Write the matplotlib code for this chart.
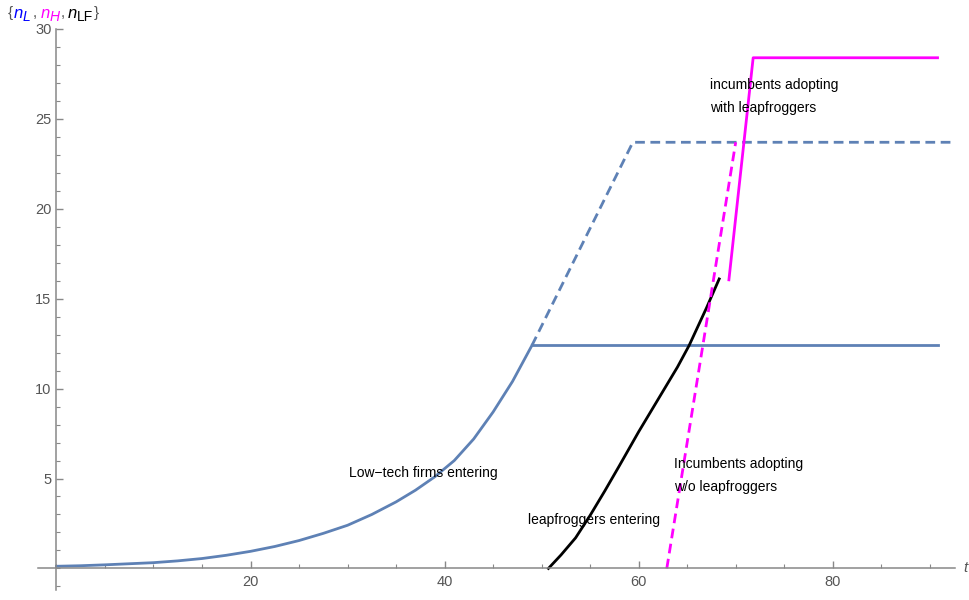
import matplotlib.pyplot as plt
from matplotlib.ticker import MultipleLocator

plt.rcParams['font.family'] = ['Liberation Sans', 'DejaVu Sans']

# low-tech firms entering (before and after the cap)
t_low = [0, 2.5, 5, 7.5, 10, 12.5, 15, 17.5, 20, 22.5, 25, 27.5, 30, 32.5, 35,
         37, 39, 41, 43, 45, 47, 49]
n_low = [0.12, 0.15, 0.2, 0.26, 0.32, 0.42, 0.55, 0.73, 0.95, 1.22, 1.55, 1.95,
         2.4, 3.0, 3.7, 4.35, 5.1, 6.0, 7.2, 8.7, 10.4, 12.4]
t_low_cap = [49, 90.8]
n_low_cap = [12.4, 12.4]
t_low_free = [49, 59.4, 92.6]
n_low_free = [12.4, 23.7, 23.7]

# leapfroggers entering
t_lf = [50.7, 52, 53.5, 55, 56.5, 58, 60, 62, 64, 65.2, 67, 68.3]
n_lf = [0, 0.75, 1.7, 2.95, 4.3, 5.7, 7.6, 9.4, 11.2, 12.4, 14.5, 16.1]

# incumbents adopting with / without leapfroggers
t_inc_wo = [62.9, 70.0]
n_inc_wo = [0, 23.7]
t_inc_with = [69.3, 71.8, 90.8]
n_inc_with = [16.05, 28.4, 28.4]

blue = '#5E81B5'
magenta = '#FF00FF'
grey = '#888888'

fig = plt.figure(figsize=(9.69, 6.0), dpi=100)
ax = fig.add_axes([38 / 969, 10 / 600, (955 - 38) / 969, (590 - 29) / 600])
ax.set_xlim(-1.9, 92.6)
ax.set_ylim(-1.2, 30)

ax.plot(t_low, n_low, color=blue, lw=2)
ax.plot(t_low_cap, n_low_cap, color=blue, lw=2)
ax.plot(t_low_free, n_low_free, color=blue, lw=2, ls=(0, (3.5, 2)))
ax.plot(t_lf, n_lf, color='black', lw=2)
ax.plot(t_inc_wo, n_inc_wo, color=magenta, lw=2, ls=(0, (3.5, 2)))
ax.plot(t_inc_with, n_inc_with, color=magenta, lw=2)

# axes crossing at the origin
for side in ['top', 'right']:
    ax.spines[side].set_visible(False)
ax.spines['left'].set_position(('data', 0))
ax.spines['bottom'].set_position(('data', 0))
for side in ['left', 'bottom']:
    ax.spines[side].set_color(grey)
    ax.spines[side].set_linewidth(1.1)

ax.xaxis.set_minor_locator(MultipleLocator(5))
ax.yaxis.set_minor_locator(MultipleLocator(1))
ax.set_xticks([20, 40, 60, 80])
ax.set_yticks([5, 10, 15, 20, 25, 30])
ax.tick_params(which='both', direction='in', color=grey, labelcolor='#555555', labelsize=10.5)
ax.tick_params(which='major', length=5, width=1)
ax.tick_params(which='minor', length=3, width=0.8)
ax.tick_params(axis='x', pad=5)

kw = dict(fontsize=10, color='black', va='center', ha='left')
ax.text(67.4, 26.9, 'incumbents adopting', **kw)
ax.text(67.4, 25.6, 'with leapfroggers', **kw)
ax.text(30.2, 5.3, 'Low\u2212tech firms entering', **kw)
ax.text(48.6, 2.67, 'leapfroggers entering', **kw)
ax.text(63.6, 5.8, 'Incumbents adopting', **kw)
ax.text(63.6, 4.55, 'w/o leapfroggers', **kw)

# axis labels
fig.text(963 / 969, 1 - 568 / 600, 't', fontsize=11, style='italic', color='#555555',
         va='center', ha='left')
ytop = 1 - 13 / 600
ysub = 1 - 17 / 600
parts = [('{', 8, ytop, 11, 'normal', '#555555'),
         ('n', 14, ytop, 12, 'italic', '#0000FF'), ('L', 23, ysub, 10, 'italic', '#0000FF'),
         (',', 33, ytop, 11, 'normal', '#555555'),
         ('n', 41, ytop, 12, 'italic', magenta), ('H', 50, ysub, 10, 'italic', magenta),
         (',', 61, ytop, 11, 'normal', '#555555'),
         ('n', 68, ytop, 12, 'italic', 'black'), ('LF', 77, ysub, 10, 'normal', 'black'),
         ('}', 94, ytop, 11, 'normal', '#555555')]
for s, px, y, size, st, c in parts:
    fig.text(px / 969, y, s, fontsize=size, style=st, color=c, va='center', ha='left')

fig.savefig('out.png', dpi=100)
